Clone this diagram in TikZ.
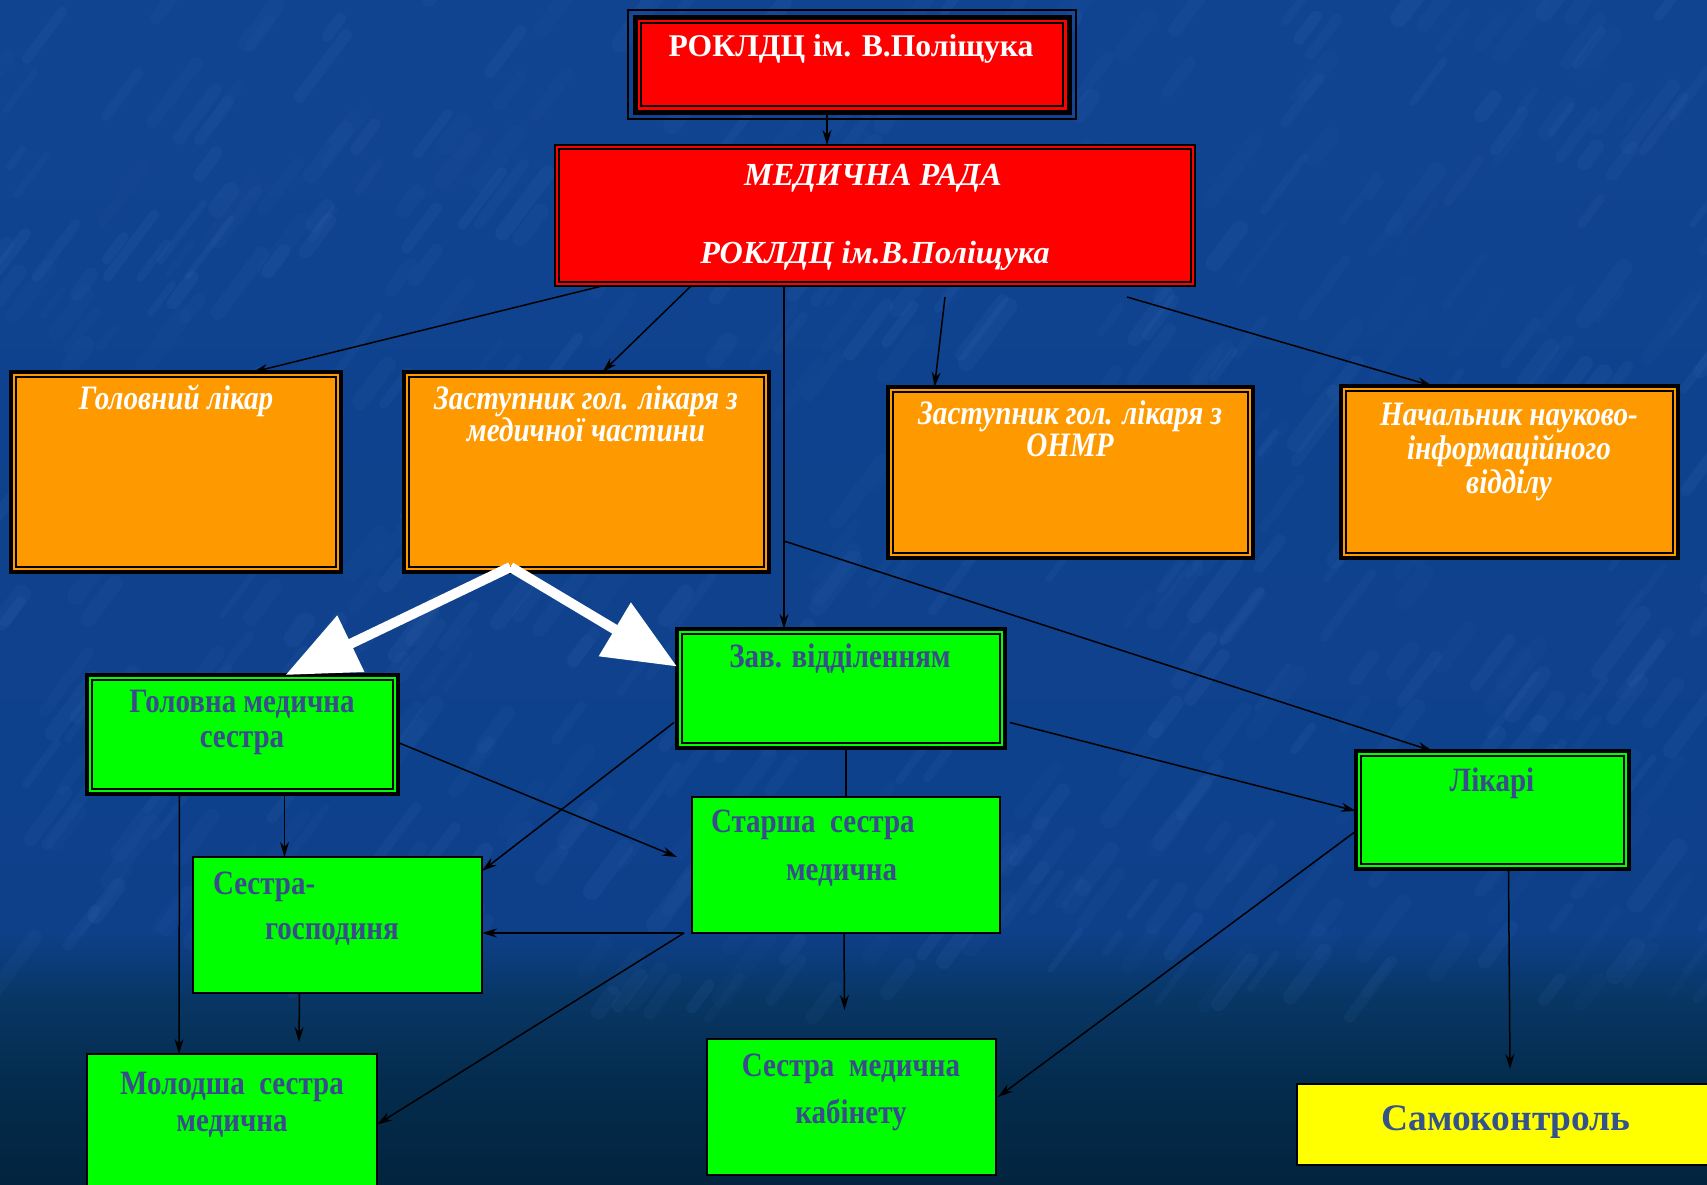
\documentclass[tikz,border=0pt]{standalone}
\usepackage{fontspec}
\setmainfont{Liberation Serif}
\newfontfamily\cond[FakeStretch=0.85]{Liberation Serif}
\usetikzlibrary{arrows.meta}
\definecolor{bgtop}{RGB}{16,68,145}
\definecolor{bgmid}{RGB}{14,64,138}
\definecolor{bgmid2}{RGB}{8,54,100}
\definecolor{bgmid3}{RGB}{4,44,78}
\definecolor{bgbot}{RGB}{2,36,62}
\definecolor{streak}{RGB}{80,130,205}
\definecolor{boxred}{RGB}{255,0,0}
\definecolor{boxorange}{RGB}{255,153,0}
\definecolor{boxgreen}{RGB}{0,255,0}
\definecolor{boxyellow}{RGB}{255,255,0}
\definecolor{gtext}{RGB}{58,76,140}
\definecolor{ytext}{RGB}{52,82,140}
\pgfdeclareverticalshading{bgshade}{100bp}{color(0bp)=(bgbot); color(25bp)=(bgbot); color(29.4bp)=(bgmid3); color(32.8bp)=(bgmid2); color(35.7bp)=(bgmid); color(75bp)=(bgtop); color(100bp)=(bgtop)}
\newcommand\pbox[6]{\node[#6, minimum width={(#4-#2)*0.02cm}, minimum height={(#5-#3)*0.02cm}] (#1) at ({(#2+#4)/2},{(#3+#5)/2}) {};}
\newcommand\inframe[3]{\draw[black,line width=#3] ([shift={(#2,#2)}]#1.north west) rectangle ([shift={(-#2,-#2)}]#1.south east);}
\begin{document}
\begin{tikzpicture}[x=0.02cm,y=-0.02cm,
  every node/.style={inner sep=0pt, outer sep=0pt},
  redbox/.style={rectangle, fill=boxred, draw=black, line width=0.1cm},
  redbox2/.style={rectangle, fill=boxred, draw=black, line width=0.05cm},
  orbox/.style={rectangle, fill=boxorange, draw=black, line width=0.08cm},
  grbox2/.style={rectangle, fill=boxgreen, draw=black, line width=0.09cm},
  grbox/.style={rectangle, fill=boxgreen, draw=black, line width=0.05cm},
  yebox/.style={rectangle, fill=boxyellow, draw=black, line width=0.05cm},
  ttop/.style={text=white, font=\fontsize{18}{22}\selectfont\bfseries, anchor=base},
  tmr/.style={text=white, font=\fontsize{18.3}{22}\selectfont\bfseries\itshape, anchor=base},
  tor/.style={text=white, font=\cond\fontsize{19.5}{22}\selectfont\bfseries\itshape, anchor=base},
  tgr/.style={text=gtext, font=\cond\fontsize{19.4}{22}\selectfont\bfseries, anchor=base},
  tye/.style={text=ytext, font=\fontsize{21.3}{24}\selectfont\bfseries, anchor=base},
  arr/.style={black, line width=0.03cm, -{Stealth[length=0.3cm,width=0.18cm]}},
  ln/.style={black, line width=0.03cm},
  warr/.style={white, line width=0.2cm, -{Triangle[length=1.45cm,width=1.2cm]}}]
\useasboundingbox (0,0) rectangle (1707,1184);
\clip (0,0) rectangle (1707,1184);
\shade[shading=bgshade] (0,0) rectangle (1707,1184);
% background texture
\pgfmathsetseed{11}
\foreach \i in {1,...,600}{
  \pgfmathsetmacro\xx{rnd*1760-30}
  \pgfmathsetmacro\yy{rnd*1020}
  \pgfmathsetmacro\ll{20+rnd*60}
  \pgfmathsetmacro\ww{0.12+rnd*0.25}
  \pgfmathsetmacro\oo{0.03+rnd*0.07}
  \draw[streak, opacity=\oo, line width=\ww cm, line cap=round] (\xx,\yy) -- ++({\ll*0.6},{-\ll*0.8});
}

% top box
\draw[black, line width=0.025cm] (628,10) rectangle (1076,119);
\pbox{top}{635}{17}{1069}{112}{redbox}
\inframe{top}{6}{0.03cm}
\node[ttop] (ttop1) at (851,56) {РОКЛДЦ ім. В.Поліщука};

% medical council
\pbox{mr}{555}{145}{1195}{286}{redbox2}
\inframe{mr}{4}{0.05cm}
\node[tmr] (tmr1) at (873,185) {МЕДИЧНА РАДА};
\node[tmr] (tmr2) at (875,263) {РОКЛДЦ ім.В.Поліщука};

% orange boxes
\pbox{o1}{11}{372}{341}{572}{orbox}
\inframe{o1}{5}{0.03cm}
\node[tor] (to1) at (176,409) {Головний лікар};
\pbox{o2}{404}{372}{769}{572}{orbox}
\inframe{o2}{5}{0.03cm}
\node[tor] (to2a) at (586,409) {Заступник гол. лікаря з};
\node[tor] (to2b) at (586,441) {медичної частини};
\pbox{o3}{888}{387}{1253}{558}{orbox}
\inframe{o3}{5}{0.03cm}
\node[tor] (to3a) at (1070,424) {Заступник гол. лікаря з};
\node[tor] (to3b) at (1070,456) {ОНМР};
\pbox{o4}{1341}{386}{1678}{558}{orbox}
\inframe{o4}{5}{0.03cm}
\node[tor] (to4a) at (1509,425) {Начальник науково-};
\node[tor] (to4b) at (1509,459) {інформаційного};
\node[tor] (to4c) at (1509,493) {відділу};

% green boxes
\pbox{g1}{87}{675}{398}{794}{grbox2}
\inframe{g1}{5}{0.03cm}
\node[tgr] (tg1a) at (242,712) {Головна медична};
\node[tgr] (tg1b) at (242,747) {сестра};
\pbox{g2}{677}{629}{1005}{748}{grbox2}
\inframe{g2}{5}{0.03cm}
\node[tgr] (tg2) at (840,667) {Зав. відділенням};
\pbox{g3}{1356}{751}{1629}{869}{grbox2}
\inframe{g3}{5}{0.03cm}
\node[tgr] (tg3) at (1492,791) {Лікарі};
\pbox{g4}{692}{797}{1000}{933}{grbox}
\node[tgr, anchor=base west] (tg4a) at (711,832) {Старша~~сестра};
\node[tgr, anchor=base west] (tg4b) at (786,880) {медична};
\pbox{g5}{193}{857}{482}{993}{grbox}
\node[tgr, anchor=base west] (tg5a) at (213,894) {Сестра-};
\node[tgr, anchor=base west] (tg5b) at (265,939) {господиня};
\pbox{g6}{87}{1054}{377}{1195}{grbox}
\node[tgr] (tg6a) at (232,1094) {Молодша~~сестра};
\node[tgr] (tg6b) at (232,1131) {медична};
\pbox{g7}{707}{1039}{996}{1175}{grbox}
\node[tgr] (tg7a) at (851,1076) {Сестра~~медична};
\node[tgr] (tg7b) at (851,1123) {кабінету};
\pbox{y1}{1297}{1084}{1715}{1165}{yebox}
\node[tye] (ty1) at (1506,1130) {Самоконтроль};

% connectors
\draw[arr] ([shift={(-25,0)}]top.south) -- ([shift={(-48,0)}]mr.north);
\draw[arr] ([shift={(47,0)}]mr.south west) -- ([shift={(77,0)}]o1.north);
\draw[arr] ([shift={(136,0)}]mr.south west) -- ([shift={(16,0)}]o2.north);
\draw[arr] ([shift={(-91,0)}]mr.south) -- ([shift={(-57,0)}]g2.north);
\draw[arr] ([shift={(70,11)}]mr.south) -- ([shift={(-136,0)}]o3.north);
\draw[arr] ([shift={(252,11)}]mr.south) -- ([shift={(-77,0)}]o4.north);
\coordinate (vsplit) at (784,541);
\draw[arr] (vsplit) -- ([shift={(-60,0)}]g3.north);
\coordinate (wstart) at ([shift={(-76,-5)}]o2.south);
\draw[warr, line join=miter] (wstart) -- ([shift={(43,0)}]g1.north);
\draw[warr, line join=miter] (wstart) -- ([shift={(0,-22)}]g2.west);
\draw[arr] ([shift={(0,8)}]g1.east) -- ([shift={(-15,-8)}]g4.west);
\draw[arr] ([shift={(-3,34)}]g2.west) -- ([shift={(0,14)}]g5.north east);
\draw[arr] ([shift={(5,34)}]g2.east) -- ([shift={(0,1)}]g3.west);
\draw[ln] ([shift={(5,0)}]g2.south) -- (g4.north);
\draw[arr] ([shift={(-63,0)}]g1.south) -- ([shift={(-53,0)}]g6.north);
\draw[arr] ([shift={(42,2)}]g1.south) -- ([shift={(-53,0)}]g5.north);
\coordinate (sss) at ([shift={(-8,0)}]g4.south west);
\draw[arr] (sss) -- ([shift={(0,8)}]g5.east);
\draw[arr] (sss) -- ([shift={(0,0)}]g6.east);
\draw[arr] ([shift={(-38,0)}]g5.south) -- ([shift={(67,-12)}]g6.north);
\draw[arr] ([shift={(-2,0)}]g4.south) -- ([shift={(-7,-29)}]g7.north);
\draw[arr] ([shift={(0,21)}]g3.west) -- ([shift={(2,-10)}]g7.east);
\draw[arr] ([shift={(16,0)}]g3.south) -- ([shift={(4,-15)}]y1.north);
\end{tikzpicture}
\end{document}
